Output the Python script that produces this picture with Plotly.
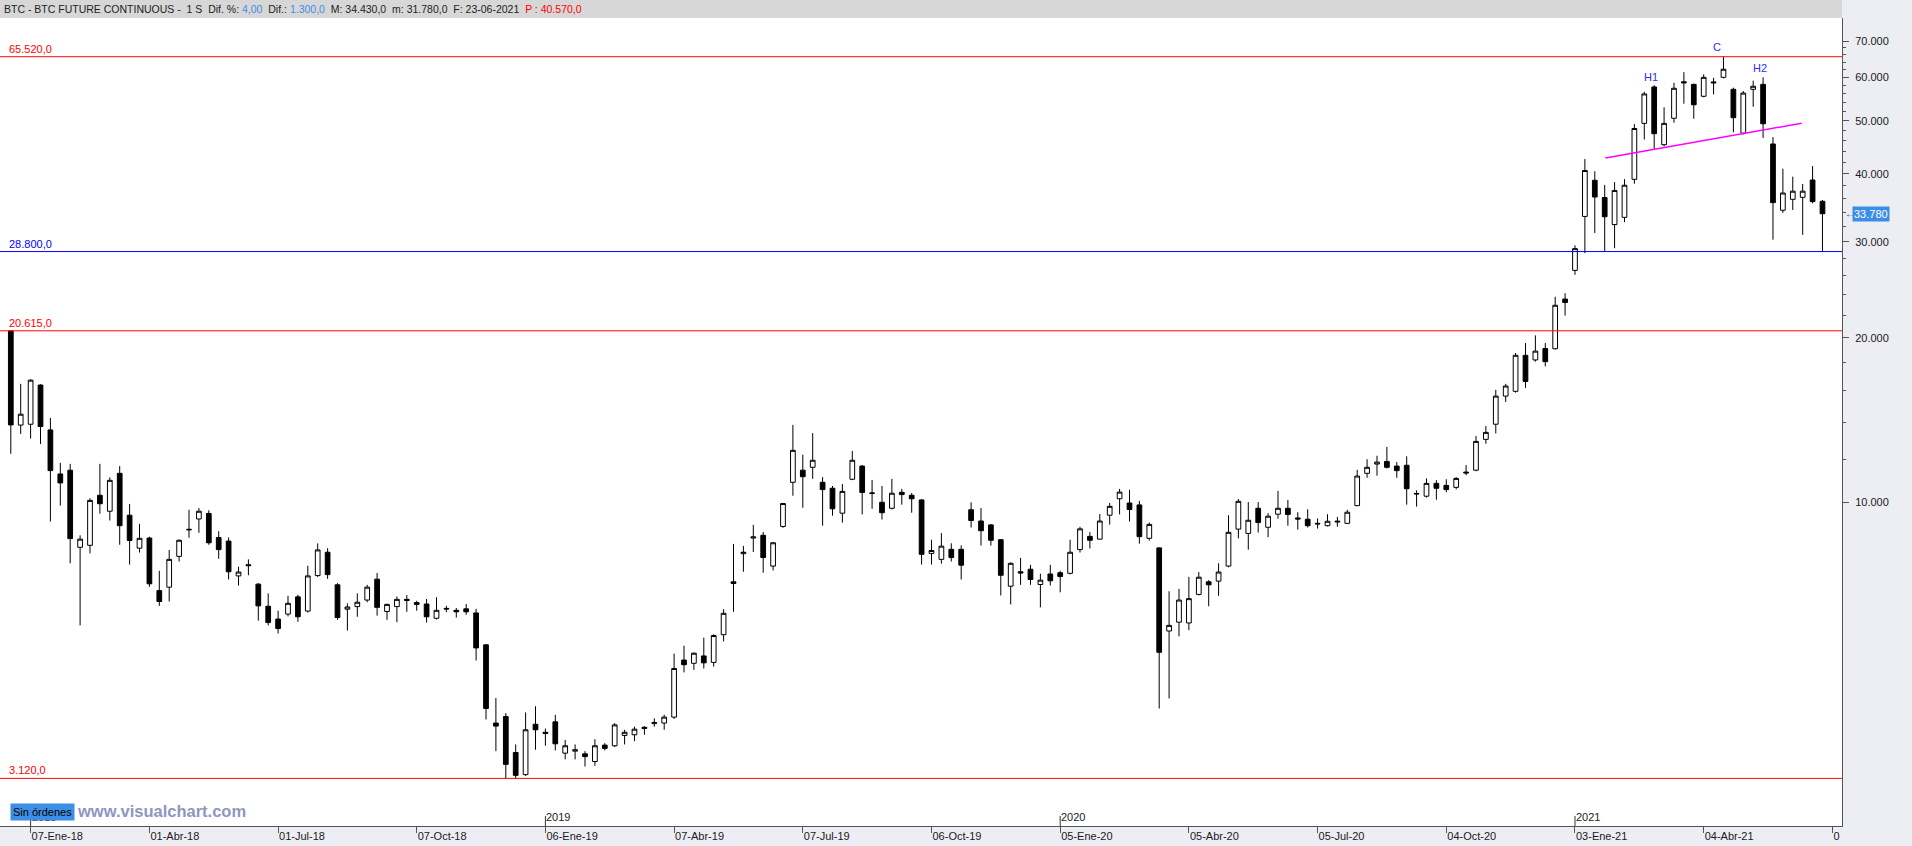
import math
import pandas as pd
import plotly.graph_objects as go

# ---------------- data (weekly BTC futures, weeks ending on Sunday) ----------------
first_week = "2017-12-24"
opens = [20600, 13850, 13900, 16400, 13570, 11270, 11450, 8270, 8340, 10300,
         9630, 11300, 9470, 8240, 8600, 6890, 6990, 7960, 8900, 9320,
         9540, 8620, 8490, 7330, 7650, 7080, 6450, 6110, 6240, 6710,
         6320, 7340, 8100, 7060, 6370, 6440, 6620, 7230, 6310, 6440,
         6640, 6550, 6510, 6130, 6370, 6340, 6380, 6270, 5480, 3940,
         4050, 3480, 3170, 3920, 3790, 3960, 3470, 3500, 3460, 3350,
         3590, 3580, 3740, 3750, 3850, 3930, 3940, 4040, 5140, 5070,
         5230, 5090, 5720, 7150, 8050, 8600, 8700, 7640, 9030, 10880,
         11450, 11590, 10880, 10610, 9550, 11020, 11650, 10380, 10000, 9750,
         10430, 10300, 10100, 8060, 7860, 8200, 8200, 9690, 9240, 9090,
         8540, 7020, 7460, 7540, 7070, 7390, 7430, 7410, 8190, 8660,
         8560, 9470, 10150, 9970, 9890, 8590, 8250, 5810, 6030, 6010,
         6780, 7150, 7170, 7640, 8930, 8770, 9750, 9000, 9510, 9750,
         9360, 9310, 9150, 9060, 9200, 9150, 9860, 11300, 11750, 11880,
         11650, 11690, 10380, 10260, 10830, 10740, 10650, 11360, 11450, 13040,
         13900, 15650, 15970, 18590, 18230, 19130, 19110, 23570, 26600, 33400,
         38900, 36170, 32270, 33270, 39060, 49460, 57670, 45200, 50530, 58950,
         58300, 55450, 58900, 60060, 57100, 47450, 57100, 58300, 45340, 34280,
         35900, 36200, 38950, 35600]
highs = [20615, 16480, 16800, 16450, 14270, 11810, 11760, 8700, 10170, 11760,
         11110, 11650, 9930, 9130, 8650, 7490, 8180, 8550, 9690, 9760,
         9670, 8850, 8620, 7620, 7860, 7110, 6810, 6330, 6740, 6770,
         7650, 8410, 8240, 7110, 6530, 6810, 7060, 7420, 6520, 6720,
         6760, 6600, 6650, 6700, 6460, 6400, 6510, 6380, 5500, 4380,
         4110, 3600, 4120, 4230, 3850, 4080, 3670, 3600, 3500, 3680,
         3620, 3940, 3830, 3880, 3890, 4020, 4080, 5280, 5460, 5310,
         5650, 5730, 6370, 8390, 8320, 9090, 8820, 8460, 9970, 13860,
         12220, 13390, 11120, 10710, 10800, 12420, 11700, 10990, 10710, 11040,
         10580, 10400, 10130, 8540, 8780, 8410, 8340, 10000, 9760, 9120,
         8560, 7760, 7910, 7680, 7400, 7680, 7490, 8540, 9020, 8820,
         9520, 9970, 10580, 10540, 10060, 9180, 8270, 6870, 6940, 7300,
         7450, 7200, 7730, 9470, 10140, 10010, 10010, 9550, 10490, 10100,
         9590, 9710, 9340, 9510, 9400, 9690, 11470, 11990, 12170, 12630,
         11850, 12140, 10520, 11060, 10980, 11020, 11120, 11700, 13230, 13800,
         16070, 16480, 18770, 19580, 20220, 19580, 23800, 24160, 29560, 42550,
         40400, 38150, 38600, 39100, 49300, 56500, 58100, 52920, 58700, 61400,
         58500, 60830, 59950, 65520, 57500, 56700, 59230, 60060, 46680, 40850,
         39500, 38300, 41300, 35800]
lows = [12270, 13340, 13080, 12790, 9220, 9860, 7730, 5950, 8060, 9530,
        9260, 8360, 7690, 8090, 7000, 6460, 6580, 7790, 8610, 8790,
        8360, 7880, 7220, 7040, 7350, 6070, 5950, 5750, 6180, 6040,
        6280, 7300, 7240, 6090, 5820, 6170, 6560, 6200, 6090, 6030,
        6300, 6330, 6020, 6100, 6290, 6150, 6220, 5130, 4000, 3500,
        3120, 3120, 3150, 3520, 3580, 3510, 3380, 3380, 3280, 3290,
        3510, 3560, 3600, 3650, 3750, 3880, 3830, 4010, 4880, 4930,
        4960, 5000, 5560, 6300, 7460, 8110, 7430, 7500, 8980, 10280,
        9770, 11040, 9060, 9450, 9180, 10980, 9500, 9730, 9300, 9700,
        9900, 9570, 7690, 7690, 7720, 7790, 7220, 8990, 8330, 8330,
        6750, 6500, 7060, 7060, 6420, 7040, 6840, 7380, 8090, 8230,
        8540, 9100, 9500, 9220, 8400, 8510, 4190, 4370, 5680, 5830,
        6750, 6450, 6740, 7600, 8590, 8190, 8800, 8630, 9330, 9060,
        8910, 8990, 8950, 9030, 9020, 9120, 9840, 11090, 11190, 11530,
        11090, 9900, 9820, 10200, 10110, 10430, 10560, 11210, 11400, 12800,
        13370, 15270, 15880, 16200, 18100, 17740, 19050, 21980, 26110, 28600,
        31150, 28850, 29200, 32600, 38340, 46200, 44390, 44900, 49600, 53740,
        50440, 55200, 55900, 59800, 47640, 47200, 53050, 46500, 30280, 33900,
        34320, 30900, 35300, 28800]
closes = [13860, 14500, 16740, 13770, 11430, 10850, 8580, 8560, 10080, 9940,
          10970, 9060, 8510, 8590, 7090, 6580, 7860, 8520, 8920, 9630,
          8430, 8190, 7460, 7450, 7680, 6460, 6020, 5870, 6530, 6170,
          7330, 8180, 7370, 6150, 6430, 6560, 6990, 6420, 6500, 6640,
          6610, 6500, 6170, 6340, 6390, 6300, 6300, 5410, 4190, 3890,
          3310, 3160, 3830, 3830, 3770, 3610, 3580, 3520, 3420, 3580,
          3540, 3910, 3790, 3840, 3870, 3950, 4040, 4960, 5040, 5290,
          5080, 5700, 6260, 7100, 8100, 8640, 7920, 8430, 9950, 12450,
          11140, 11940, 10550, 9730, 10470, 11940, 10420, 10400, 9570, 10390,
          10330, 10150, 8030, 8160, 8310, 7920, 7670, 9260, 8870, 8520,
          7350, 7730, 7420, 7220, 7200, 7180, 7310, 8100, 8940, 8520,
          9240, 9830, 10440, 9700, 8650, 9110, 5310, 5950, 6620, 6660,
          7290, 7060, 7450, 8810, 10040, 9270, 9180, 9430, 9750, 9500,
          9320, 9060, 9130, 9230, 9230, 9590, 11170, 11590, 11850, 11590,
          11430, 10590, 10360, 10830, 10610, 10550, 11060, 11320, 12930, 13430,
          15650, 16330, 18590, 16650, 18920, 18100, 22960, 23230, 29160, 40540,
          36250, 33350, 37270, 38100, 48400, 56000, 47350, 49460, 57350, 58700,
          53500, 60060, 58700, 62150, 50660, 56200, 57840, 49380, 35400, 36870,
          37150, 37150, 35550, 33780]

level_values = [65520, 28800, 20615, 3120]
level_labels = ["65.520,0", "28.800,0", "20.615,0", "3.120,0"]
level_colors = ["#ff0000", "#0000ff", "#ff0000", "#ff0000"]

trend_dates = ["2021-01-24 12:00", "2021-06-12 07:00"]
trend_values = [42740, 49490]

pattern_labels = ["H1", "C", "H2"]
pattern_weeks = [165.65, 172.3, 176.7]
pattern_values = [60230, 68350, 62400]

y_tick_values = [10000, 20000, 30000, 40000, 50000, 60000, 70000]
y_tick_text = ["10.000", "20.000", "30.000", "40.000", "50.000", "60.000", "70.000"]
y_minor_values = [12000, 14000, 16000, 18000, 22000, 24000, 26000, 28000,
                  32000, 34000, 36000, 38000, 42000, 44000, 46000, 48000,
                  52000, 54000, 56000, 58000, 62000, 64000, 66000, 68000]

x_tick_dates = ["2018-01-07", "2018-04-01", "2018-07-01", "2018-10-07",
                "2019-01-06", "2019-04-07", "2019-07-07", "2019-10-06",
                "2020-01-05", "2020-04-05", "2020-07-05", "2020-10-04",
                "2021-01-03", "2021-04-04", "2021-07-04"]
x_tick_text = ["07-Ene-18", "01-Abr-18", "01-Jul-18", "07-Oct-18",
               "06-Ene-19", "07-Abr-19", "07-Jul-19", "06-Oct-19",
               "05-Ene-20", "05-Abr-20", "05-Jul-20", "04-Oct-20",
               "03-Ene-21", "04-Abr-21", "0"]
year_dates = ["2018-01-07", "2019-01-06", "2020-01-05", "2021-01-03"]
year_text = ["2018", "2019", "2020", "2021"]

last_price = 33780
last_price_text = "33.780"

# ---------------- figure ----------------
dates = pd.date_range(first_week, periods=len(opens), freq="7D")
t0 = dates[0]

fig = go.Figure()
fig.add_trace(go.Candlestick(
    x=dates, open=opens, high=highs, low=lows, close=closes,
    increasing=dict(line=dict(color="#000000", width=1), fillcolor="#ffffff"),
    decreasing=dict(line=dict(color="#000000", width=1), fillcolor="#000000"),
    whiskerwidth=0, hoverinfo="skip", showlegend=False,
))

fig.add_trace(go.Scatter(
    x=pd.to_datetime(trend_dates), y=trend_values, mode="lines",
    line=dict(color="#ff00ff", width=1.5), hoverinfo="skip", showlegend=False,
))

shapes = []
annotations = []

# header bar
shapes.append(dict(type="rect", xref="paper", yref="paper", x0=0, x1=1,
                   y0=1.0, y1=1.03, fillcolor="#d7d7d7", line=dict(width=0),
                   layer="below"))
sp = "&nbsp;"
header = ("BTC - BTC FUTURE CONTINUOUS -" + sp + " 1 S" + sp + " Dif. %: "
          "<span style='color:#3a8ee6'>4,00</span>" + sp + " Dif.: "
          "<span style='color:#3a8ee6'>1.300,0</span>" + sp + " M: 34.430,0"
          + sp + " m: 31.780,0" + sp + " F: 23-06-2021" + sp + " "
          "<span style='color:#ff0000'>P : 40.570,0</span>")
annotations.append(dict(xref="paper", yref="paper", x=0.001, y=1.0115,
                        xanchor="left", yanchor="middle", showarrow=False,
                        text=header, font=dict(size=10.5, color="#222222",
                                               family="Liberation Sans")))

# horizontal levels with labels
for v, lab, col in zip(level_values, level_labels, level_colors):
    shapes.append(dict(type="line", xref="paper", yref="y", x0=0, x1=1,
                       y0=v, y1=v, line=dict(color=col, width=1)))
    annotations.append(dict(xref="paper", yref="y", x=0.004, y=math.log10(v),
                            xanchor="left", yanchor="bottom", showarrow=False,
                            text=lab, font=dict(size=11, color=col)))

# pattern labels
for lab, w, v in zip(pattern_labels, pattern_weeks, pattern_values):
    annotations.append(dict(xref="x", yref="y", x=t0 + pd.Timedelta(weeks=w),
                            y=math.log10(v), xanchor="center", yanchor="middle",
                            showarrow=False, text=lab,
                            font=dict(size=11, color="#2b2bff")))

# year markers
for d, t in zip(year_dates, year_text):
    shapes.append(dict(type="line", xref="x", yref="paper", x0=d, x1=d,
                       y0=0, y1=0.0125, line=dict(color="#333333", width=1)))
    annotations.append(dict(xref="x", yref="paper", x=d, y=0.0,
                            xanchor="left", yanchor="bottom", showarrow=False,
                            text=t, font=dict(size=11, color="#1a1a1a"),
                            xshift=-1, yshift=1))

# watermark / status box
annotations.append(dict(xref="paper", yref="paper", x=0.0405, y=0.0185,
                        xanchor="left", yanchor="middle", showarrow=False,
                        text="<b>www.visualchart.com</b>",
                        font=dict(size=16.5, color="#9096bd", family="Liberation Sans")))
annotations.append(dict(xref="paper", yref="paper", x=0.0055, y=0.0175,
                        xanchor="left", yanchor="middle", showarrow=False,
                        text="Sin órdenes", bgcolor="#3d8fe6", borderpad=2,
                        font=dict(size=11, color="#000000")))

# last price tag
annotations.append(dict(xref="paper", yref="y", x=1.0055, y=math.log10(last_price),
                        xanchor="left", yanchor="middle", showarrow=False,
                        text=last_price_text, bgcolor="#3b8ee6", borderpad=1,
                        font=dict(size=11, color="#ffffff")))
annotations.append(dict(xref="paper", yref="y", x=1.0005, y=math.log10(last_price),
                        xanchor="left", yanchor="middle", showarrow=False,
                        text="←", font=dict(size=10, color="#444444")))

x_start = t0 - pd.Timedelta(days=7.64)
x_end = t0 + pd.Timedelta(days=1294.8)

fig.update_layout(
    width=1912, height=846,
    margin=dict(l=0, r=70, t=18, b=20),
    paper_bgcolor="#eceef3", plot_bgcolor="#ffffff",
    showlegend=False,
    font=dict(family="Liberation Sans", size=11, color="#1a1a1a"),
    shapes=shapes, annotations=annotations,
    boxgap=0.32,
    xaxis=dict(type="date", range=[x_start, x_end], rangeslider=dict(visible=False),
               showgrid=False, zeroline=False, showline=True, linecolor="#555555",
               linewidth=1, ticks="outside", ticklen=6, tickcolor="#555555",
               tickmode="array", tickvals=pd.to_datetime(x_tick_dates),
               ticktext=x_tick_text, ticklabelposition="outside right",
               tickfont=dict(size=11, color="#1a1a1a")),
    yaxis=dict(type="log", side="right", range=[3.4069, 4.8873],
               showgrid=False, zeroline=False, showline=True, linecolor="#555555",
               linewidth=1, ticks="outside", ticklen=6, tickcolor="#555555",
               tickmode="array", tickvals=y_tick_values, ticktext=y_tick_text,
               ticklabelstandoff=4,
               tickfont=dict(size=11, color="#1a1a1a"),
               minor=dict(tickmode="array", tickvals=y_minor_values, ticks="outside",
                          ticklen=3, tickcolor="#555555")),
)

fig.write_html("out.html")
